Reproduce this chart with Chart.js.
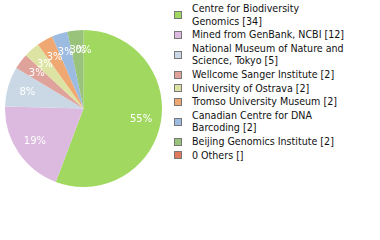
<!DOCTYPE html>
<html><head><meta charset="utf-8">
<script src="https://cdn.jsdelivr.net/npm/chart.js@4.4.0/dist/chart.umd.min.js"></script>
<style>
html,body{margin:0;padding:0;background:#fff;width:380px;height:240px;overflow:hidden}
#pie{position:absolute;left:5px;top:30px;width:157px;height:157px}
#legend{position:absolute;left:174px;top:2.3px;width:206px;font:10.6px "DejaVu Sans Condensed","DejaVu Sans",sans-serif;color:#111}
.item{display:flex;align-items:center;margin-bottom:1.25px}
.sw{width:6px;height:6px;border:1px solid #777;flex:none;margin-right:10px;position:relative;top:0.5px}
.tx{line-height:12.4px;width:154px}
</style></head>
<body>
<div id="pie"><canvas id="c" width="157" height="157"></canvas></div>
<div id="legend"></div>
<script>
const categories = ["Centre for Biodiversity Genomics","Mined from GenBank, NCBI","National Museum of Nature and Science, Tokyo","Wellcome Sanger Institute","University of Ostrava","Tromso University Museum","Canadian Centre for DNA Barcoding","Beijing Genomics Institute","0 Others"];
const counts = [34,12,5,2,2,2,2,2,0];
const countLabels = ["34","12","5","2","2","2","2","2",""];
const colors = ["#a0d860","#dcbadf","#c9d8e4","#e0a39b","#dde3a2","#f0a872","#9cbbe1","#99c27b","#e07a5c"];

const total = counts.reduce((a,b)=>a+b,0);

const pctLabels = {
  id:'pctLabels',
  afterDatasetsDraw(chart){
    const ctx = chart.ctx;
    const meta = chart.getDatasetMeta(0);
    ctx.save();
    ctx.font = '10px "DejaVu Sans"';
    ctx.fillStyle = '#fff';
    ctx.textAlign = 'center';
    ctx.textBaseline = 'middle';
    meta.data.forEach((arc,i)=>{
      const p = arc.getProps(['x','y','startAngle','endAngle','outerRadius'],true);
      const a = (p.startAngle+p.endAngle)/2;
      const r = p.outerRadius*0.745;
      const v = Math.floor(counts[i]/total*100);
      ctx.fillText(v+'%', p.x+Math.cos(a)*r, p.y+Math.sin(a)*r);
    });
    ctx.restore();
  }
};

new Chart(document.getElementById('c'),{
  type:'pie',
  data:{labels:categories,datasets:[{data:counts,backgroundColor:colors,borderWidth:0}]},
  options:{responsive:false,animation:false,events:[],
    layout:{padding:0},
    plugins:{legend:{display:false},tooltip:{enabled:false}}},
  plugins:[pctLabels]
});

const lg = document.getElementById('legend');
categories.forEach((c,i)=>{
  const it = document.createElement('div'); it.className='item';
  const sw = document.createElement('div'); sw.className='sw'; sw.style.background=colors[i];
  const tx = document.createElement('div'); tx.className='tx';
  tx.textContent = c+' ['+countLabels[i]+']';
  it.appendChild(sw); it.appendChild(tx); lg.appendChild(it);
});
</script>
</body></html>
